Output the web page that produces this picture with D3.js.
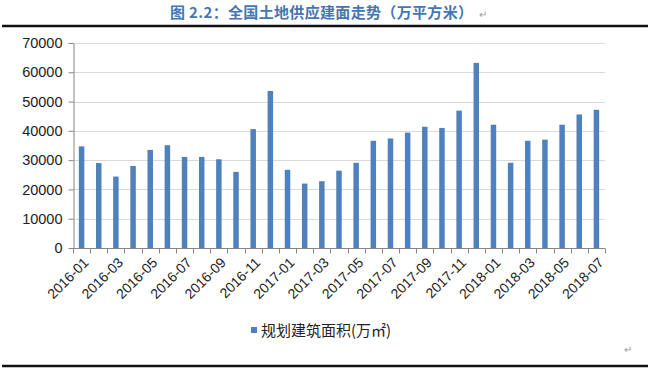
<!DOCTYPE html>
<html>
<head>
<meta charset="utf-8">
<script src="https://cdn.jsdelivr.net/npm/d3@7"></script>
<style>
  body { margin: 0; background: #fff; }
  svg { display: block; }
</style>
</head>
<body>
<svg id="chart" width="650" height="374"></svg>
<script>
// monthly land supply, planned floor area (万㎡)
var months = [
  "2016-01", "2016-02", "2016-03", "2016-04", "2016-05", "2016-06",
  "2016-07", "2016-08", "2016-09", "2016-10", "2016-11", "2016-12",
  "2017-01", "2017-02", "2017-03", "2017-04", "2017-05", "2017-06",
  "2017-07", "2017-08", "2017-09", "2017-10", "2017-11", "2017-12",
  "2018-01", "2018-02", "2018-03", "2018-04", "2018-05", "2018-06",
  "2018-07"
];
var area = [
  34700, 29000, 24400, 28000, 33500, 35100,
  31100, 31100, 30300, 26000, 40600, 53600,
  26700, 22000, 22800, 26400, 29100, 36600,
  37400, 39400, 41400, 41000, 46900, 63200,
  42100, 29100, 36600, 37000, 42100, 45600,
  47200
];
var yTicks = [0, 10000, 20000, 30000, 40000, 50000, 60000, 70000];
var titleText = "图 2.2：全国土地供应建面走势（万平方米）";
var seriesName = "规划建筑面积(万㎡)";

var svg = d3.select("#chart"),
  margin = { top: 43, right: 45, bottom: 126, left: 73 },
  width = 650 - margin.left - margin.right,
  height = 374 - margin.top - margin.bottom,
  barColor = "#4f81bd",
  font = "'Liberation Sans', Arial, sans-serif";

// title strip
var title = svg.append("text")
  .attr("x", 170)
  .attr("y", 18)
  .attr("font-family", "'Noto Sans CJK SC', sans-serif")
  .attr("font-weight", "bold")
  .attr("font-size", 15)
  .attr("fill", "#4576b0")
  .attr("textLength", 303)
  .attr("lengthAdjust", "spacing")
  .text(titleText);
svg.append("text")
  .attr("x", 479)
  .attr("y", 18)
  .attr("font-family", font)
  .attr("font-size", 10)
  .attr("fill", "#999")
  .text("↵");
svg.append("line")
  .attr("x1", 2).attr("x2", 648)
  .attr("y1", 26).attr("y2", 26)
  .attr("stroke", "#111")
  .attr("stroke-width", 2.5);
svg.append("line")
  .attr("x1", 2).attr("x2", 648)
  .attr("y1", 366).attr("y2", 366)
  .attr("stroke", "#111")
  .attr("stroke-width", 2.5);
svg.append("text")
  .attr("x", 624)
  .attr("y", 353)
  .attr("font-family", font)
  .attr("font-size", 10)
  .attr("fill", "#999")
  .text("↵");

var g = svg.append("g")
  .attr("transform", "translate(" + margin.left + "," + margin.top + ")");

var x = d3.scaleBand()
  .domain(months)
  .range([0, width])
  .paddingInner(0.68)
  .paddingOuter(0.34);

var y = d3.scaleLinear()
  .domain([0, 70000])
  .range([height, 0]);

// gridlines
g.append("g")
  .selectAll("line")
  .data(yTicks.slice(1))
  .enter()
  .append("line")
  .attr("x1", 0).attr("x2", width)
  .attr("y1", function(d) { return Math.round(y(d)) + 0.5; })
  .attr("y2", function(d) { return Math.round(y(d)) + 0.5; })
  .attr("stroke", "#d9d9d9");

// y axis
var yAxis = g.append("g")
  .attr("transform", "translate(0.5,0)")
  .call(d3.axisLeft(y).tickValues(yTicks).tickSize(5).tickSizeOuter(0).tickFormat(d3.format("d")));
yAxis.select(".domain").attr("stroke", "#868686");
yAxis.selectAll(".tick line").attr("stroke", "#868686");
yAxis.selectAll("text")
  .attr("font-family", font)
  .attr("font-size", 14.5)
  .attr("fill", "#222")
  .attr("x", -11);

// bars
g.append("g")
  .selectAll("rect")
  .data(area)
  .enter()
  .append("rect")
  .attr("x", function(d, i) { return x(months[i]); })
  .attr("y", function(d) { return y(d); })
  .attr("width", x.bandwidth())
  .attr("height", function(d) { return height - y(d); })
  .attr("fill", barColor);

// x axis: ticks on band boundaries
var xAxis = g.append("g").attr("transform", "translate(0," + (height + 0.5) + ")");
xAxis.append("line")
  .attr("x1", 0).attr("x2", width)
  .attr("stroke", "#868686");
xAxis.selectAll(".tk")
  .data(d3.range(months.length + 1))
  .enter()
  .append("line")
  .attr("class", "tk")
  .attr("x1", function(i) { return Math.round(i * width / months.length) + 0.5; })
  .attr("x2", function(i) { return Math.round(i * width / months.length) + 0.5; })
  .attr("y1", 0).attr("y2", 5)
  .attr("stroke", "#868686");
xAxis.selectAll(".lbl")
  .data(months.filter(function(d, i) { return i % 2 === 0; }))
  .enter()
  .append("text")
  .attr("class", "lbl")
  .attr("text-anchor", "end")
  .attr("font-family", font)
  .attr("font-size", 14)
  .attr("fill", "#222")
  .attr("transform", function(d) {
    return "translate(" + (x(d) + x.bandwidth() / 2 + 8) + ",15) rotate(-45)";
  })
  .text(function(d) { return d; });

// legend
var legend = svg.append("g").attr("transform", "translate(251,331)");
legend.append("rect")
  .attr("x", 0).attr("y", -4)
  .attr("width", 6).attr("height", 6)
  .attr("fill", barColor);
legend.append("text")
  .attr("x", 10)
  .attr("y", 5)
  .attr("font-family", "'Noto Sans CJK SC', sans-serif")
  .attr("font-size", 15)
  .attr("fill", "#222")
  .text(seriesName);
</script>
</body>
</html>
